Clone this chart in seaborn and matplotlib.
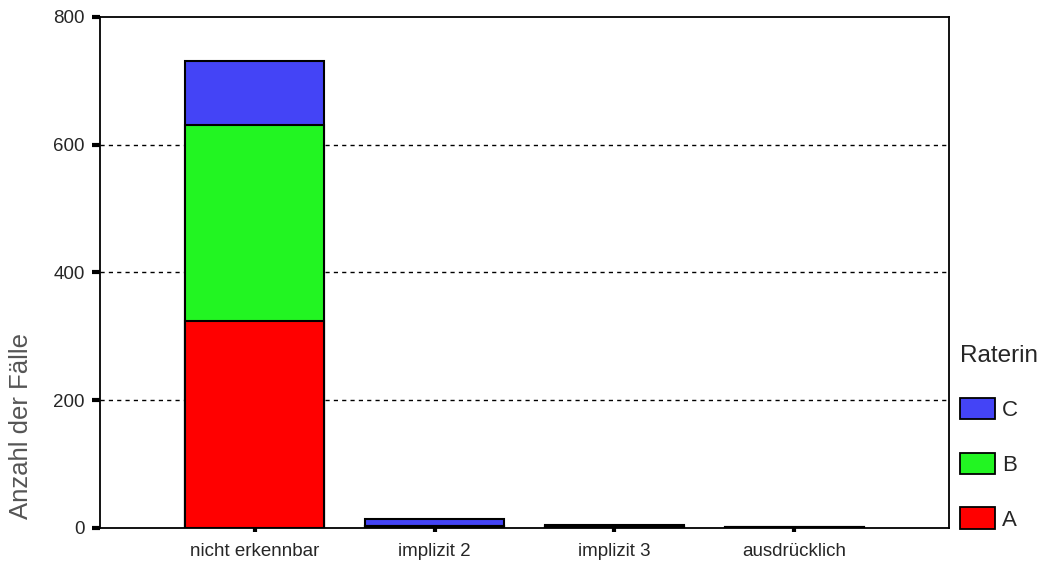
import matplotlib
matplotlib.use('Agg')
import matplotlib.pyplot as plt
import seaborn as sns
import pandas as pd
import numpy as np
from matplotlib.patches import Patch

# data
categories = ['nicht erkennbar', 'implizit 2', 'implizit 3', 'ausdrücklich']
rater_a = [324, 3, 2, 0]
rater_b = [307, 0, 1, 1]
rater_c = [100, 11, 2, 0]
colors = {'A': '#ff0000', 'B': '#22f522', 'C': '#4444f6'}

sns.set_style('white')
plt.rcParams['font.family'] = ['Liberation Sans', 'DejaVu Sans']

df = pd.DataFrame({'Kategorie': categories, 'A': rater_a, 'B': rater_b, 'C': rater_c})
df['AB'] = df['A'] + df['B']
df['ABC'] = df['AB'] + df['C']

fig = plt.figure(figsize=(10.47, 5.65), dpi=100)
ax = fig.add_axes([0.0955, 0.0655, 0.811, 0.9045])

# gestapelte Balken: kumulierte Summen von hinten nach vorne
for col, c in [('ABC', colors['C']), ('AB', colors['B']), ('A', colors['A'])]:
    sns.barplot(data=df, x='Kategorie', y=col, color=c, width=0.77,
                edgecolor='black', linewidth=1.5, saturation=1, ax=ax, zorder=3)

ax.set_ylim(0, 800)
ax.set_xlim(-0.86, 3.86)
ax.set_yticks([0, 200, 400, 600, 800])
for y in [200, 400, 600]:
    ax.axhline(y, color='black', linestyle=(0, (3, 3)), linewidth=1, zorder=1)

for s in ax.spines.values():
    s.set_visible(True)
    s.set_color('black')
    s.set_linewidth(1.3)

ax.tick_params(axis='y', left=True, direction='out', length=6, width=3, labelsize=13.5,
               color='black', pad=5)
ax.tick_params(axis='x', bottom=True, direction='out', length=3, width=3, labelsize=13.5,
               color='black', pad=8)
ax.set_xlabel('')
ax.set_ylabel('Anzahl der Fälle', fontsize=18.5, color='#555555')
ax.yaxis.set_label_coords(-0.079, 0.2)

handles = [Patch(facecolor=colors[k], edgecolor='black', linewidth=1.3, label=k) for k in ['C', 'B', 'A']]
leg = fig.legend(handles=handles, title='Raterin', loc='upper left',
                 bbox_to_anchor=(0.917, 0.39), frameon=False, fontsize=16,
                 title_fontsize=17.5, handlelength=1.58, handleheight=1.08,
                 labelspacing=1.42, handletextpad=0.3, alignment='left',
                 borderpad=0, borderaxespad=0)

fig.savefig('out.png', dpi=100)
